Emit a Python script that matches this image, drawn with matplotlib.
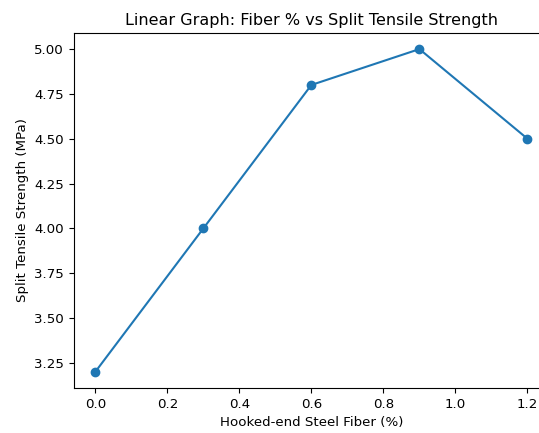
import matplotlib
matplotlib.use("Agg")
import matplotlib.pyplot as plt

# -----------------------
# Data
# -----------------------
fiber_pct = [0.0, 0.3, 0.6, 0.9, 1.2]
split_tensile = [3.2, 4.0, 4.8, 5.0, 4.5]

# reference text renders a touch narrower than default DejaVu at 10pt
plt.rcParams["font.size"] = 9.6

# -----------------------
# Plot
# -----------------------
fig = plt.figure(figsize=(5.39, 4.33), dpi=100)
# the reference is cropped on the right, so the axes run past the figure edge
ax = fig.add_axes([0.1367, 0.1039, 0.882, 0.82])
ax.plot(fiber_pct, split_tensile, marker="o")

ax.set_title("Linear Graph: Fiber % vs Split Tensile Strength")
ax.set_xlabel("Hooked-end Steel Fiber (%)")
ax.set_ylabel("Split Tensile Strength (MPa)")

fig.savefig("out.png", dpi=100)
